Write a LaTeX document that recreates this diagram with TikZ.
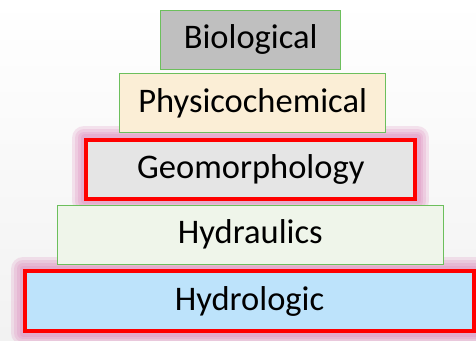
\documentclass[tikz,border=0pt]{standalone}
\usepackage{fontspec}
\setmainfont{Carlito}
\usetikzlibrary{backgrounds}

\definecolor{edgegreen}{HTML}{6CBF5C}
\definecolor{bioGray}{HTML}{BFBFBF}
\definecolor{chemCream}{HTML}{FBEED6}
\definecolor{geoGray}{HTML}{E5E5E5}
\definecolor{hydraGreen}{HTML}{EFF5EA}
\definecolor{hydroBlue}{HTML}{BDE3FB}
\definecolor{glowPink}{HTML}{D873B0}
\definecolor{bgGray}{HTML}{F2F2F2}

\tikzset{
  layer/.style={draw=edgegreen, line width=0.9pt, inner sep=0pt, minimum height=59pt,
    font=\fontsize{34.5}{40}\selectfont},
  keylayer/.style={layer, draw=red, line width=4pt}
}

\begin{document}
\begin{tikzpicture}[x=1pt,y=-1pt]
\useasboundingbox (0,0) rectangle (476,340);

% Pyramid layers, top to bottom
\node[layer, fill=bioGray, minimum width=180pt] (bio) at (250.7,39.5) {Biological};
\node[layer, fill=chemCream, minimum width=266pt] (chem) at (252.7,103.2) {Physicochemical};
\node[keylayer, fill=geoGray, minimum width=329pt] (geo) at (250.8,169.3) {Geomorphology};
\node[layer, fill=hydraGreen, minimum width=386pt] (hydra) at (250.3,234.7) {Hydraulics};
\node[keylayer, fill=hydroBlue, minimum width=449pt, minimum height=60pt] (hydro) at (249.5,301) {Hydrologic};

% Background and glow behind the red layers
\begin{scope}[on background layer]
  \shade[top color=white, bottom color=bgGray] (0,0) rectangle (476,340);
  \foreach \n in {geo,hydro} {
    \foreach \w in {24,18,12,7} {
      \draw[glowPink, line width=\w pt, opacity=0.18, line join=round]
        (\n.north west) rectangle (\n.south east);
    }
  }
\end{scope}

\end{tikzpicture}
\end{document}
